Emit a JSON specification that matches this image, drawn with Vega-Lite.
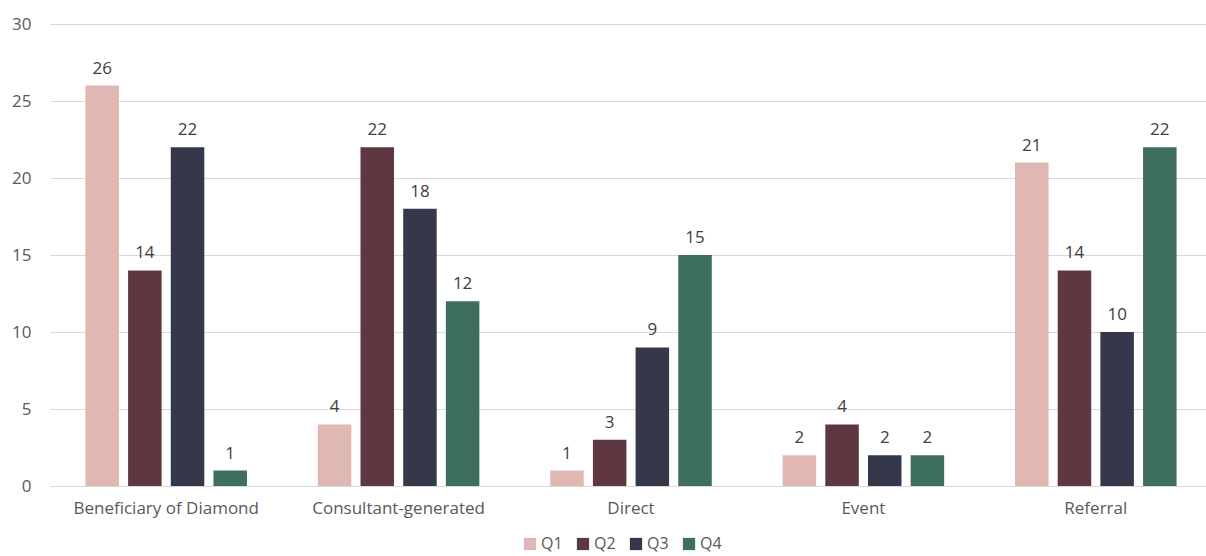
{
  "$schema": "https://vega.github.io/schema/vega-lite/v6.json",
  "autosize": {"type": "none"},
  "width": 1152,
  "height": 462,
  "padding": {"left": 48, "top": 24, "right": 6, "bottom": 70},
  "background": "white",
  "config": {
    "font": "Open Sans",
    "view": {"stroke": null}
  },
  "data": {
    "values": [
      {"source": "Beneficiary of Diamond", "quarter": "Q1", "count": 26},
      {"source": "Beneficiary of Diamond", "quarter": "Q2", "count": 14},
      {"source": "Beneficiary of Diamond", "quarter": "Q3", "count": 22},
      {"source": "Beneficiary of Diamond", "quarter": "Q4", "count": 1},
      {"source": "Consultant-generated", "quarter": "Q1", "count": 4},
      {"source": "Consultant-generated", "quarter": "Q2", "count": 22},
      {"source": "Consultant-generated", "quarter": "Q3", "count": 18},
      {"source": "Consultant-generated", "quarter": "Q4", "count": 12},
      {"source": "Direct", "quarter": "Q1", "count": 1},
      {"source": "Direct", "quarter": "Q2", "count": 3},
      {"source": "Direct", "quarter": "Q3", "count": 9},
      {"source": "Direct", "quarter": "Q4", "count": 15},
      {"source": "Event", "quarter": "Q1", "count": 2},
      {"source": "Event", "quarter": "Q2", "count": 4},
      {"source": "Event", "quarter": "Q3", "count": 2},
      {"source": "Event", "quarter": "Q4", "count": 2},
      {"source": "Referral", "quarter": "Q1", "count": 21},
      {"source": "Referral", "quarter": "Q2", "count": 14},
      {"source": "Referral", "quarter": "Q3", "count": 10},
      {"source": "Referral", "quarter": "Q4", "count": 22}
    ]
  },
  "encoding": {
    "x": {
      "field": "source",
      "type": "nominal",
      "sort": null,
      "title": null,
      "scale": {"paddingInner": 0, "paddingOuter": 0, "range": [2, 1164]},
      "axis": {
        "labelAngle": 0,
        "labelFontSize": 17,
        "labelColor": "#595959",
        "labelPadding": 14,
        "labelLimit": 400,
        "ticks": false,
        "domain": false
      }
    },
    "xOffset": {
      "field": "quarter",
      "type": "nominal",
      "scale": {"paddingInner": 0.215, "paddingOuter": 0.83}
    },
    "y": {
      "field": "count",
      "type": "quantitative",
      "title": null,
      "scale": {"domain": [0, 30]},
      "axis": {
        "values": [0, 5, 10, 15, 20, 25, 30],
        "labelFontSize": 17,
        "labelColor": "#595959",
        "labelPadding": 17,
        "ticks": false,
        "domain": false,
        "gridColor": "#d9d9d9",
        "gridWidth": 1.2
      }
    }
  },
  "layer": [
    {
      "mark": {"type": "bar", "strokeWidth": 1, "strokeOpacity": 0.6},
      "encoding": {
        "color": {
          "field": "quarter",
          "type": "nominal",
          "title": null,
          "scale": {
            "domain": ["Q1", "Q2", "Q3", "Q4"],
            "range": ["#e0b7b3", "#5e3740", "#35374b", "#3e6e5e"]
          },
          "legend": {
            "orient": "none",
            "legendX": 474,
            "legendY": 512,
            "direction": "horizontal",
            "symbolType": "square",
            "symbolSize": 150,
            "symbolStrokeWidth": 0,
            "labelFontSize": 16,
            "labelColor": "#595959",
            "columnPadding": 12,
            "labelOffset": 3
          }
        }
      }
    },
    {
      "mark": {"type": "text", "baseline": "bottom", "dy": -8, "fontSize": 17, "color": "#404040"},
      "encoding": {
        "text": {"field": "count", "type": "quantitative"}
      }
    }
  ]
}
